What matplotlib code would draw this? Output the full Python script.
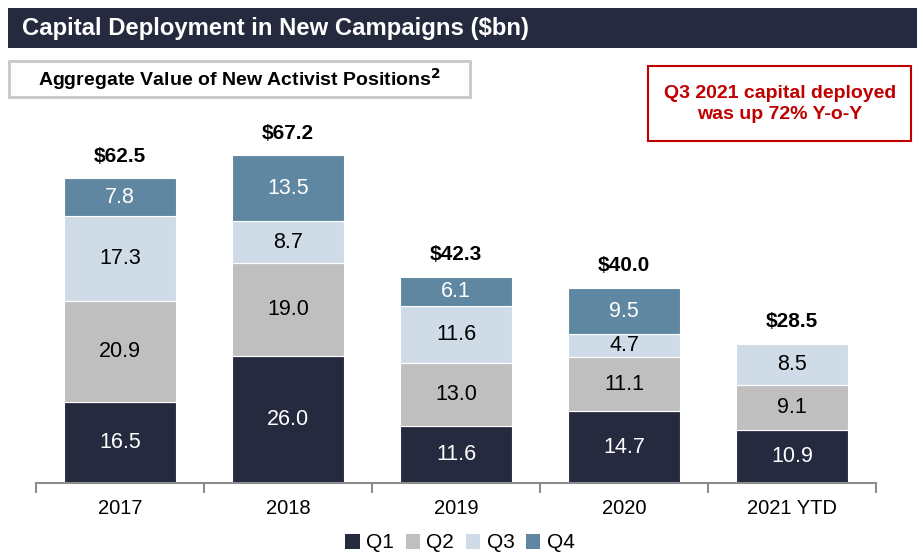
import matplotlib
matplotlib.use("Agg")
import matplotlib.pyplot as plt
from matplotlib.patches import Rectangle, Patch

plt.rcParams['font.family'] = ['Liberation Sans', 'DejaVu Sans']

# data ($bn)
years = ['2017', '2018', '2019', '2020', '2021 YTD']
q1 = [16.5, 26.0, 11.6, 14.7, 10.9]
q2 = [20.9, 19.0, 13.0, 11.1, 9.1]
q3 = [17.3, 8.7, 11.6, 4.7, 8.5]
q4 = [7.8, 13.5, 6.1, 9.5, 0.0]
totals = [62.5, 67.2, 42.3, 40.0, 28.5]

quarters = ['Q1', 'Q2', 'Q3', 'Q4']
colors = ['#252a3e', '#bfbfbf', '#cfdce7', '#5f87a1']
text_colors = ['white', 'black', 'black', 'white']

W, H = 917, 554
fig = plt.figure(figsize=(W / 100, H / 100), dpi=100)


def fx(px):
    return px / W


def fy(py):
    return 1 - py / H


# header bar
fig.patches.append(Rectangle((fx(8), fy(48)), fx(909), 40 / H, transform=fig.transFigure,
                             facecolor='#252a3e', edgecolor='none'))
fig.text(fx(22), fy(29), 'Capital Deployment in New Campaigns ($bn)', color='white',
         fontsize=17.2, fontweight='bold', va='center', ha='left')

# sub header box
fig.patches.append(Rectangle((fx(9), fy(97)), fx(461), 36 / H, transform=fig.transFigure,
                             facecolor='white', edgecolor='#c8c8c8', linewidth=2))
fig.text(fx(239), fy(79), 'Aggregate Value of New Activist Positions$^{\\mathbf{2}}$',
         color='black', fontsize=14, fontweight='bold', va='center', ha='center')

# callout box
fig.patches.append(Rectangle((fx(648), fy(141)), fx(263), 75 / H, transform=fig.transFigure,
                             facecolor='white', edgecolor='#c00000', linewidth=1.5))
fig.text(fx(780), fy(104), 'Q3 2021 capital deployed\nwas up 72% Y-o-Y', color='#c00000',
         fontsize=14, fontweight='bold', va='center', ha='center', linespacing=1.35)

ax = fig.add_axes([fx(36), fy(483), fx(840), 383 / H])
x = list(range(len(years)))
bottom = [0.0] * len(years)
for vals, c, tc, q in zip([q1, q2, q3, q4], colors, text_colors, quarters):
    ax.bar(x, vals, width=0.667, bottom=bottom, color=c, edgecolor='white', linewidth=0.8, label=q)
    for i, v in enumerate(vals):
        if v > 0:
            ax.text(x[i], bottom[i] + v / 2, f'{v:.1f}', ha='center', va='center',
                    color=tc, fontsize=15.5)
    bottom = [b + v for b, v in zip(bottom, vals)]

for i, t in enumerate(totals):
    ax.annotate(f'${t:.1f}', (x[i], bottom[i]), xytext=(0, 9), textcoords='offset points',
                ha='center', va='bottom', fontsize=15, fontweight='bold')

ax.set_xlim(-0.5, len(years) - 0.5)
ax.set_ylim(0, 78.5)
ax.set_yticks([])
for s in ['top', 'right', 'left']:
    ax.spines[s].set_visible(False)
ax.spines['bottom'].set_color('#8c8c8c')
ax.spines['bottom'].set_linewidth(1.5)
ax.set_xticks([i - 0.5 for i in range(len(years) + 1)])
ax.set_xticklabels([])
ax.tick_params(axis='x', length=7, width=1.5, color='#8c8c8c', direction='out')
for i, yl in enumerate(years):
    ax.annotate(yl, (x[i], 0), xytext=(0, -18), textcoords='offset points',
                ha='center', va='center', fontsize=14.5)

handles = [Patch(facecolor=c, edgecolor='none', label=q) for c, q in zip(colors, quarters)]
fig.legend(handles=handles, loc='center', bbox_to_anchor=(fx(460), fy(543)), ncol=4,
           frameon=False, fontsize=15, handlelength=0.7, handleheight=0.7,
           handletextpad=0.3, columnspacing=0.55, borderpad=0)

fig.savefig('out.png', dpi=100)
